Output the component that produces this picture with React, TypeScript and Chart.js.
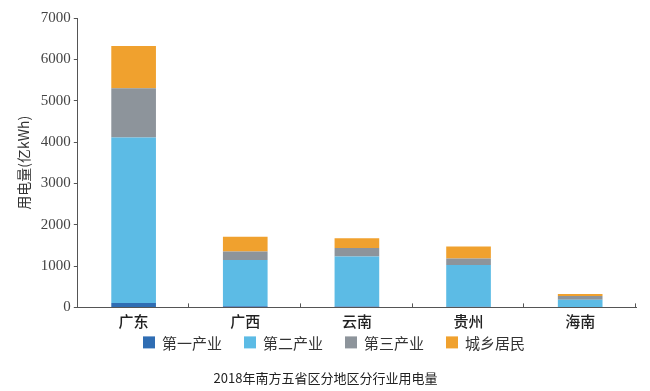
import React, { useEffect, useRef } from "react";
import { Chart, registerables } from "chart.js";

Chart.register(...registerables);

const categories = ["广东", "广西", "云南", "贵州", "海南"];
const primary = [104, 30, 20, 15, 10];
const secondary = [4007, 1114, 1211, 1008, 176];
const tertiary = [1192, 208, 203, 160, 89];
const residential = [1021, 354, 241, 289, 48];
const seriesNames = ["第一产业", "第二产业", "第三产业", "城乡居民"];
const seriesColors = ["#2f6db3", "#5cbbe5", "#8d949b", "#f0a12e"];
const yTicks = [0, 1000, 2000, 3000, 4000, 5000, 6000, 7000];
const yTitle = "用电量(亿kWh)";
const chartTitle = "2018年南方五省区分地区分行业用电量";

const innerTicks = {
  id: "innerTicks",
  afterDraw(chart: any) {
    const x = chart.scales.x;
    const ctx = chart.ctx;
    const n = categories.length;
    const w = (x.right - x.left) / n;
    ctx.save();
    ctx.strokeStyle = "#555";
    ctx.lineWidth = 1;
    for (let i = 1; i <= n; i++) {
      const px = Math.round(x.left + i * w) - 0.5;
      ctx.beginPath();
      ctx.moveTo(px, x.top);
      ctx.lineTo(px, x.top - 4);
      ctx.stroke();
    }
    ctx.restore();
  },
};

const customLegend = {
  id: "customLegend",
  afterDraw(chart: any) {
    const ctx = chart.ctx;
    const font = "15px 'Noto Sans CJK SC'";
    ctx.save();
    ctx.font = font;
    const box = 12;
    const gap = 7;
    const spacing = 22;
    const widths = seriesNames.map((s) => box + gap + ctx.measureText(s).width);
    const total = widths.reduce((a, b) => a + b, 0) + spacing * (widths.length - 1);
    let x = chart.width / 2 + 9 - total / 2;
    const y = chart.chartArea.bottom + 35;
    ctx.textBaseline = "middle";
    ctx.textAlign = "left";
    seriesNames.forEach((s, i) => {
      ctx.fillStyle = seriesColors[i];
      ctx.fillRect(x, y - box / 2, box, box);
      ctx.fillStyle = "#333";
      ctx.fillText(s, x + box + gap, y + 1);
      x += widths[i] + spacing;
    });
    ctx.restore();
  },
};

export default function App() {
  const ref = useRef<HTMLCanvasElement | null>(null);
  useEffect(() => {
    if (!ref.current) return;
    const data = [primary, secondary, tertiary, residential];
    const chart = new Chart(ref.current, {
      type: "bar",
      data: {
        labels: categories,
        datasets: data.map((d, i) => ({
          label: seriesNames[i],
          data: d,
          backgroundColor: seriesColors[i],
          borderWidth: 0,
          categoryPercentage: 1,
          barPercentage: 0.4,
        })),
      },
      options: {
        responsive: false,
        animation: false,
        layout: { padding: { left: 15, right: 14, top: 18, bottom: 5 } },
        plugins: {
          tooltip: { enabled: false },
          legend: { display: false },
          title: {
            display: true,
            position: "bottom",
            text: chartTitle,
            color: "#222",
            font: { family: "'Noto Sans CJK SC'", size: 13, weight: "normal" },
            padding: { top: 35, bottom: 0 },
          },
        },
        scales: {
          x: {
            stacked: true,
            grid: { display: false, drawTicks: false },
            border: { display: true, color: "#555", width: 1 },
            ticks: {
              color: "#222",
              padding: 5,
              font: { family: "'Noto Sans CJK SC'", size: 15, weight: 500 },
            },
          },
          y: {
            stacked: true,
            min: 0,
            max: 7000,
            afterBuildTicks: (s: any) => {
              s.ticks = yTicks.map((v) => ({ value: v }));
            },
            grid: { drawOnChartArea: false, drawTicks: true, tickLength: 4, color: "#555" },
            border: { display: true, color: "#555", width: 1 },
            ticks: {
              color: "#444",
              padding: 3,
              font: { family: "'Times New Roman', 'Liberation Serif', 'DejaVu Serif', serif", size: 15 },
              callback: (v: any) => String(v),
            },
            title: {
              display: true,
              text: yTitle,
              color: "#333",
              font: { family: "'Noto Sans CJK SC'", size: 14 },
              padding: { top: 0, bottom: 6 },
            },
          },
        },
      },
      plugins: [innerTicks, customLegend],
    });
    return () => chart.destroy();
  }, []);
  return (
    <div style={{ position: "fixed", left: 0, top: 0, width: 650, height: 391, background: "#fff" }}>
      <canvas ref={ref} width={650} height={391} />
    </div>
  );
}
